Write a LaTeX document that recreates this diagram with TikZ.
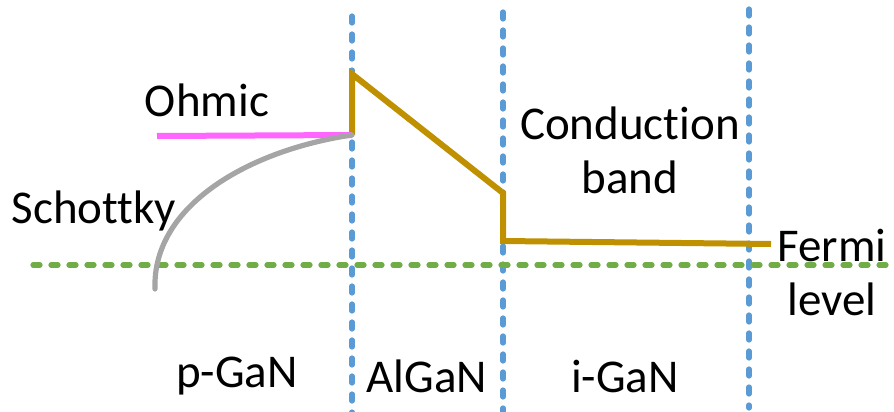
\documentclass[tikz,border=0pt]{standalone}
\usepackage{fontspec}
\setmainfont[Ligatures=NoCommon]{Carlito}
\definecolor{bandgold}{HTML}{BF9000}
\definecolor{ohmicpink}{HTML}{FF66FF}
\definecolor{schottkygray}{HTML}{A5A5A5}
\definecolor{layerblue}{HTML}{5B9BD5}
\definecolor{fermigreen}{HTML}{70AD47}
\begin{document}
\begin{tikzpicture}[x=0.5pt,y=-0.5pt,
  boundary/.style={draw=layerblue,line width=2.6pt,line cap=round,dash pattern=on 3.5pt off 5.5pt},
  fermiline/.style={draw=fermigreen,line width=2.6pt,line cap=round,dash pattern=on 3.5pt off 5.5pt},
  band/.style={draw=bandgold,line width=3pt,line join=miter},
  lbl/.style={font=\fontsize{23.5pt}{28pt}\selectfont,inner sep=0pt,align=center}]
\useasboundingbox (0,0) rectangle (894,412);
% layer boundaries
\coordinate (b1t) at (352,16);  \coordinate (b1b) at (352,412);
\coordinate (b2t) at (503,12);  \coordinate (b2b) at (503,412);
\coordinate (b3t) at (749,9);   \coordinate (b3b) at (749,408);
\draw[boundary] (b1t) -- (b1b);
\draw[boundary] (b2t) -- (b2b);
\draw[boundary] (b3t) -- (b3b);
% Fermi level
\coordinate (fl) at (33,265); \coordinate (fr) at (894,265);
\draw[fermiline] (fl) -- (fr);
% conduction band
\coordinate (c0) at (352,135);
\coordinate (c1) at (352,74);
\coordinate (c2) at (503,193);
\coordinate (c3) at (503,241);
\coordinate (c4) at (771,244);
\draw[band] (c0) -- (c1) -- (c2) -- (c3) -- (c4);
% contacts
\coordinate (oh) at (157,136);
\draw[ohmicpink,line width=3pt] (oh) -- (c0);
\coordinate (sk) at (155,289);
\draw[schottkygray,line width=2.6pt,line cap=round]
  (sk) .. controls (152,205) and (250,150) .. (c0);
% labels
\node[lbl] (ohmic) at (207,100) {Ohmic};
\node[lbl] (schottky) at (94,211) {Schottky};
\node[lbl] (cond) at (630,150) {Conduction\\[-1pt]band};
\node[lbl,anchor=west] (fermi) at (777,272) {Fermi\\[-1pt]level};
\node[lbl] (pgan) at (237,376) {p-GaN};
\node[lbl] (algan) at (427,376) {AlGaN};
\node[lbl] (igan) at (625,376) {i-GaN};
\end{tikzpicture}
\end{document}
